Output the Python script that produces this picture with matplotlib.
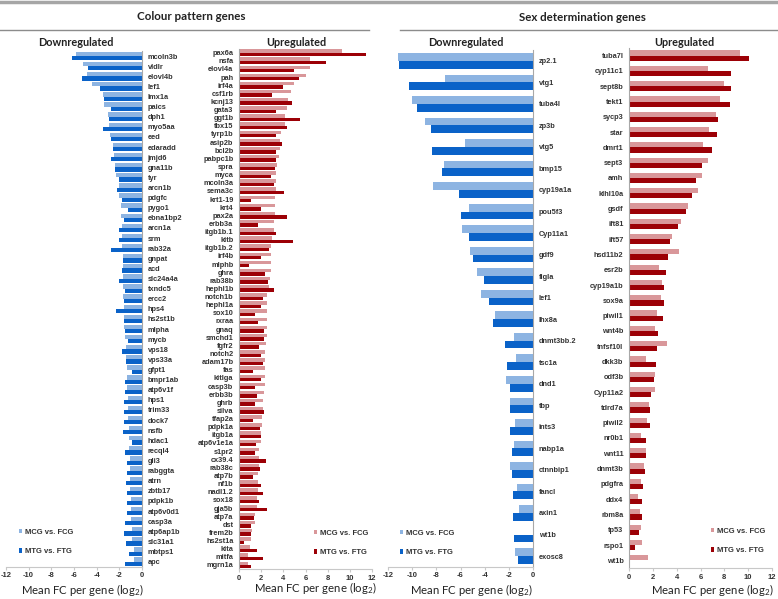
import numpy as np
import matplotlib
matplotlib.use("Agg")
import matplotlib.pyplot as plt
from matplotlib.patches import Patch
from matplotlib.lines import Line2D

plt.rcParams["axes.unicode_minus"] = False

# ---------------- data ----------------
cp_down_genes = ["mcoln3b", "vldlr", "elovl4b", "lef1", "lmx1a", "paics", "dph1", "myo5aa", "eed", "edaradd",
                 "jmjd6", "gna11b", "tyr", "arcn1b", "pdgfc", "pygo1", "ebna1bp2", "arcn1a", "srm", "rab32a",
                 "gnpat", "acd", "slc24a4a", "txndc5", "ercc2", "hps4", "hs2st1b", "mlpha", "mycb", "vps18",
                 "vps33a", "gfpt1", "bmpr1ab", "atp6v1f", "hps1", "trim33", "dock7", "nsfb", "hdac1", "recql4",
                 "gli3", "rabggta", "atrn", "zbtb17", "pdpk1b", "atp6v0d1", "casp3a", "atp6ap1b", "slc31a1",
                 "mbtps1", "apc"]
cp_down_mcg = [-5.8, -5.25, -4.84, -4.37, -3.42, -3.36, -2.98, -2.89, -2.83, -2.6, -2.48, -2.36, -2.3, -2.04,
               -2.0, -1.86, -1.83, -1.8, -1.8, -1.8, -1.71, -1.71, -1.71, -1.65, -1.65, -1.62, -1.62, -1.56,
               -1.47, -1.45, -1.45, -1.36, -1.3, -1.3, -1.27, -1.24, -1.21, -1.15, -1.12, -1.12, -1.09, -1.09,
               -1.06, -1.03, -1.0, -1.0, -0.94, -0.91, -0.86, -0.74, -0.68]
cp_down_mtg = [-6.2, -4.8, -5.3, -3.72, -3.33, -2.77, -2.89, -3.45, -2.77, -2.54, -2.77, -2.39, -2.06, -2.24,
               -1.77, -1.27, -1.59, -2.04, -2.04, -2.77, -1.68, -1.77, -2.04, -1.5, -1.62, -2.3, -1.56, -1.53,
               -1.27, -1.77, -1.45, -0.86, -1.5, -1.5, -1.62, -1.59, -1.62, -1.65, -0.91, -1.5, -1.36, -1.36,
               -1.45, -1.33, -1.33, -1.36, -1.5, -1.56, -1.45, -1.15, -1.53]

cp_up_genes = ["pax6a", "nsfa", "elovl4a", "pah", "irf4a", "csf1rb", "kcnj13", "gata3", "ggt1b", "tbx15",
               "tyrp1b", "asip2b", "bcl2b", "pabpc1b", "spra", "myca", "mcoln3a", "sema3c", "krt1-19", "krt4",
               "pax2a", "erbb3a", "itgb1b.1", "kitb", "itgb1b.2", "irf4b", "mlphb", "ghra", "rab38b", "hephl1b",
               "notch1b", "hephl1a", "sox10", "rxraa", "gnaq", "smchd1", "fgfr2", "notch2", "adam17b", "fas",
               "kitlga", "casp3b", "erbb3b", "ghrb", "silva", "tfap2a", "pdpk1a", "itgb1a", "atp6v1e1a", "s1pr2",
               "cx39.4", "rab38c", "atp7b", "nf1b", "nadl1.2", "sox18", "gja5b", "atp7a", "dst", "frem2b",
               "hs2st1a", "kita", "mitfa", "mgrn1a"]
cp_up_mcg = [9.25, 6.4, 6.4, 6.0, 4.98, 4.68, 4.42, 4.29, 4.14, 4.14, 3.75, 3.72, 3.69, 3.63, 3.39, 3.33, 3.33,
             3.3, 3.27, 3.24, 3.21, 3.12, 3.12, 2.97, 2.91, 2.88, 2.85, 2.85, 2.79, 2.67, 2.55, 2.53, 2.53, 2.52,
             2.52, 2.49, 2.4, 2.37, 2.37, 2.34, 2.31, 2.31, 2.28, 2.19, 2.16, 2.07, 2.04, 2.01, 1.98, 1.8, 1.8,
             1.8, 1.71, 1.71, 1.71, 1.59, 1.59, 1.47, 1.47, 1.2, 1.05, 0.99, 0.78, 0.78]
cp_up_mtg = [11.5, 7.84, 4.98, 5.4, 3.95, 2.94, 4.74, 3.33, 5.5, 4.29, 3.36, 3.9, 3.36, 3.33, 3.21, 2.88, 3.15,
             4.05, 1.11, 1.95, 4.35, 1.68, 3.3, 4.83, 2.7, 1.98, 0.9, 2.37, 2.61, 3.15, 2.13, 1.98, 1.44, 1.71,
             2.28, 2.28, 1.8, 2.0, 2.16, 1.26, 1.95, 1.44, 1.65, 1.41, 2.25, 1.29, 1.86, 2.01, 1.56, 1.47, 2.4,
             1.89, 1.29, 2.01, 2.19, 1.83, 2.52, 1.35, 1.05, 1.05, 0.42, 1.65, 2.16, 1.08]

sd_down_genes = ["zp2.1", "vtg1", "tuba4l", "zp3b", "vtg5", "bmp15", "cyp19a1a", "pou5f3", "Cyp11a1", "gdf9",
                 "figla", "lef1", "lhx8a", "dnmt3bb.2", "tsc1a", "dnd1", "tbp", "ints3", "nabp1a", "ctnnbip1",
                 "fancl", "axin1", "wt1b", "exosc8"]
sd_down_mcg = [-11.2, -7.27, -10.0, -8.95, -5.65, -7.33, -8.26, -5.32, -5.9, -5.18, -4.66, -4.3, -3.11, -1.6,
               -1.43, -2.26, -1.87, -1.49, -1.57, -1.9, -1.29, -1.13, 0.0, -1.52]
sd_down_mtg = [-11.05, -10.3, -9.6, -8.48, -8.37, -7.55, -6.09, -5.98, -5.29, -4.99, -4.02, -3.68, -3.3, -2.29,
               -2.15, -1.93, -1.9, -1.87, -1.76, -1.76, -1.68, -1.65, -1.6, -1.21]

sd_up_genes = ["tuba7l", "cyp11c1", "sept8b", "tekt1", "sycp3", "star", "dmrt1", "sept3", "amh", "klhl10a",
               "gsdf", "ift81", "ift57", "hsd11b2", "esr2b", "cyp19a1b", "sox9a", "piwil1", "wnt4b", "tnfsf10l",
               "dkk3b", "odf3b", "Cyp11a2", "tdrd7a", "piwil2", "nr0b1", "wnt11", "dnmt3b", "pdgfra", "ddx4",
               "rbm8a", "tp53", "rspo1", "wt1b"]
sd_up_mcg = [9.33, 6.64, 7.98, 7.62, 7.31, 6.75, 6.19, 6.67, 6.13, 5.77, 4.93, 4.34, 3.59, 4.2, 2.49, 2.77,
             2.72, 2.35, 2.21, 3.19, 1.4, 2.16, 2.21, 1.68, 1.48, 1.01, 1.43, 1.26, 1.01, 0.78, 0.9, 0.98, 1.09,
             1.62]
sd_up_mtg = [10.03, 8.57, 8.52, 8.46, 7.45, 7.37, 6.95, 6.16, 5.66, 5.32, 4.79, 4.12, 3.42, 3.28, 3.08, 2.97,
             2.94, 2.89, 2.46, 2.35, 2.27, 2.1, 1.82, 1.74, 1.74, 1.46, 1.43, 1.32, 1.2, 1.09, 1.06, 0.81, 0.5,
             0.0]

legend_labels = ["MCG vs. FCG", "MTG vs. FTG"]
down_ticks = [-12, -10, -8, -6, -4, -2, 0]
up_ticks = [0, 2, 4, 6, 8, 10, 12]

# ---------------- style ----------------
W, H = 778, 599
LIGHT_BLUE = "#8DB4E2"
DARK_BLUE = "#0A62C8"
LIGHT_RED = "#D9979A"
DARK_RED = "#9C0006"
TXT = "#333333"
LBL_FONT = "Liberation Sans"
HEAD_FONT = "Lato"

fig = plt.figure(figsize=(W / 100, H / 100), dpi=100)
fig.patch.set_facecolor("white")


def rect(x0, x1, ytop, ybot):
    return [x0 / W, 1 - ybot / H, (x1 - x0) / W, (ybot - ytop) / H]


def panel(box, genes, mcg, mtg, light, dark, down, bh, gene_fs=5.3):
    ax = fig.add_axes(rect(*box))
    n = len(genes)
    y = np.arange(n)
    ax.barh(y - bh / 2, mcg, height=bh, color=light, linewidth=0)
    ax.barh(y + bh / 2, mtg, height=bh, color=dark, linewidth=0)
    ax.set_ylim(n - 0.5, -0.5)
    ax.set_yticks(y)
    ax.set_yticklabels(genes, fontsize=gene_fs, fontweight="bold", color=TXT, family=LBL_FONT)
    if down:
        ax.set_xlim(-12, 0)
        ax.set_xticks(down_ticks)
        ax.yaxis.tick_right()
        for s in ["top", "left"]:
            ax.spines[s].set_visible(False)
        ax.spines["right"].set_color("#A8A8A8")
        ax.spines["right"].set_linewidth(0.8)
    else:
        ax.set_xlim(0, 12)
        ax.set_xticks(up_ticks)
        for s in ["top", "right"]:
            ax.spines[s].set_visible(False)
        ax.spines["left"].set_color("#A8A8A8")
        ax.spines["left"].set_linewidth(0.8)
    ax.spines["bottom"].set_color("#C8C8C8")
    ax.spines["bottom"].set_linewidth(0.8)
    ax.tick_params(axis="y", length=0, pad=4)
    ax.tick_params(axis="x", length=2, color="#C8C8C8", labelsize=5.5, labelcolor=TXT, pad=2)
    for t in ax.get_xticklabels():
        t.set_fontweight("bold")
        t.set_family(LBL_FONT)
    ax.set_facecolor("none")
    return ax


panel((6, 142, 51, 566.7), cp_down_genes, cp_down_mcg, cp_down_mtg, LIGHT_BLUE, DARK_BLUE, True, 0.42)
panel((239, 372, 48.6, 569), cp_up_genes, cp_up_mcg, cp_up_mtg, LIGHT_RED, DARK_RED, False, 0.42, gene_fs=5.3)
panel((388, 533, 50, 566.8), sd_down_genes, sd_down_mcg, sd_down_mtg, LIGHT_BLUE, DARK_BLUE, True, 0.36)
panel((629, 772, 48, 568), sd_up_genes, sd_up_mcg, sd_up_mtg, LIGHT_RED, DARK_RED, False, 0.34)


def ftext(x, y, s, **kw):
    fig.text(x / W, 1 - y / H, s, **kw)


# top gray band and header lines
fig.add_artist(Line2D([0, 1], [1 - 1.5 / H, 1 - 1.5 / H], color="#A6A6A6", lw=2.5, transform=fig.transFigure))
fig.add_artist(Line2D([0, 369 / W], [1 - 29.5 / H] * 2, color="#8C8C8C", lw=1.0, transform=fig.transFigure))
fig.add_artist(Line2D([400 / W, 1], [1 - 30 / H] * 2, color="#8C8C8C", lw=1.0, transform=fig.transFigure))

head_kw = dict(ha="center", va="center", family=HEAD_FONT, fontweight="bold", color="#222222")
ftext(191, 16, "Colour pattern genes", fontsize=8.3, **head_kw)
ftext(582, 17.5, "Sex determination genes", fontsize=8.3, **head_kw)
ftext(76, 42, "Downregulated", fontsize=7.8, **head_kw)
ftext(296, 42.5, "Upregulated", fontsize=7.8, **head_kw)
ftext(466, 42, "Downregulated", fontsize=7.8, **head_kw)
ftext(684, 42, "Upregulated", fontsize=7.8, **head_kw)

xl = r"Mean FC per gene (log$_{\mathregular{2}}$)"
xl_kw = dict(ha="center", va="center", family=HEAD_FONT, fontsize=8.2, color="#222222")
ftext(82, 589.5, xl, **xl_kw)
ftext(315, 588.5, xl, **xl_kw)
ftext(471, 589.5, xl, **xl_kw)
ftext(712, 589.5, xl, **xl_kw)

# legends
def legend(x, y, light, dark):
    handles = [Patch(facecolor=light, edgecolor="none"), Patch(facecolor=dark, edgecolor="none")]
    fig.legend(handles, legend_labels, loc="upper left", bbox_to_anchor=(x / W, 1 - y / H),
               bbox_transform=fig.transFigure, frameon=False, handlelength=0.45, handleheight=0.45,
               handletextpad=0.3, labelspacing=1.6, borderpad=0, borderaxespad=0,
               prop=dict(family=LBL_FONT, weight="bold", size=5.5), labelcolor=TXT)


legend(19, 529, LIGHT_BLUE, DARK_BLUE)
legend(314, 530, LIGHT_RED, DARK_RED)
legend(400, 530, LIGHT_BLUE, DARK_BLUE)
legend(711, 528, LIGHT_RED, DARK_RED)

fig.savefig("out.png", dpi=100)
